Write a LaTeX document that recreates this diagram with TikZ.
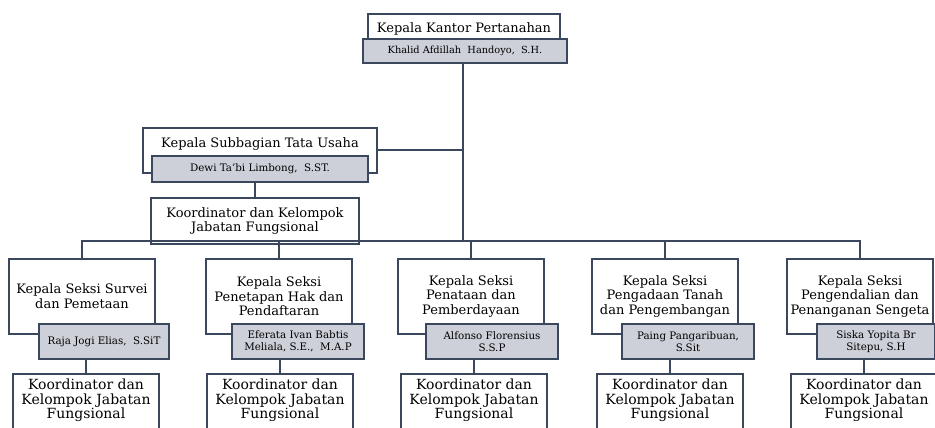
\documentclass[tikz,border=0pt]{standalone}
\usepackage{fontspec}
\setmainfont{DejaVu Serif}
\definecolor{garis}{HTML}{3A475C}
\definecolor{abu}{HTML}{CDD0D8}
\tikzset{
  jabatan/.style={draw=garis, line width=1.8pt, fill=white, align=center, inner sep=0pt, font=\fontsize{13}{14.5}\selectfont},
  pejabat/.style={draw=garis, line width=1.8pt, fill=abu, align=center, inner sep=0pt, minimum height=35pt, minimum width=132pt, font=\fontsize{10.3}{12}\selectfont},
  koordbawah/.style={jabatan, minimum width=146pt, text height=45pt, text depth=40pt, font=\fontsize{14}{14.5}\selectfont},
  hubung/.style={garis, line width=2pt},
}
\begin{document}
\begin{tikzpicture}[x=1pt, y=-1pt]
\useasboundingbox (0,0) rectangle (935,428);
\clip (0,0) rectangle (935,428);

% Kepala Kantor
\node[jabatan, anchor=north, minimum width=192pt, minimum height=30pt] (kakan) at (464,13) {Kepala Kantor Pertanahan};
\node[pejabat, anchor=north, minimum width=204pt, minimum height=24pt, font=\fontsize{9.8}{11}\selectfont] (kakanNama) at (465,38) {Khalid Afdillah\ \ Handoyo,\ \ S.H.};

% Subbagian Tata Usaha
\node[jabatan, anchor=north, minimum width=234pt, text height=20pt, text depth=25pt] (subbag) at (260,127) {Kepala Subbagian Tata Usaha};
\node[pejabat, anchor=north, minimum width=216pt, minimum height=26pt] (subbagNama) at (260,155) {Dewi Ta'bi Limbong,\ \ S.ST.};
\node[jabatan, anchor=north, minimum width=208pt, minimum height=46pt] (koord) at (255,197) {Koordinator dan Kelompok\\Jabatan Fungsional};

% Seksi
\node[jabatan, anchor=north, minimum width=146pt, minimum height=75pt] (seksi1) at (82,258) {Kepala Seksi Survei\\dan Pemetaan};
\node[jabatan, anchor=north, minimum width=146pt, minimum height=75pt] (seksi2) at (279,258) {Kepala Seksi\\Penetapan Hak dan\\Pendaftaran};
\node[jabatan, anchor=north, minimum width=146pt, minimum height=75pt] (seksi3) at (471,258) {Kepala Seksi\\Penataan dan\\Pemberdayaan};
\node[jabatan, anchor=north, minimum width=146pt, minimum height=75pt] (seksi4) at (665,258) {Kepala Seksi\\Pengadaan Tanah\\dan Pengembangan};
\node[jabatan, anchor=north, minimum width=146pt, minimum height=75pt] (seksi5) at (860,258) {Kepala Seksi\\Pengendalian dan\\Penanganan Sengeta};

% Pejabat seksi
\node[pejabat, anchor=north, minimum width=130pt] (nama1) at (104,323) {Raja Jogi Elias,\ \ S.SiT};
\node[pejabat, anchor=north] (nama2) at (298,323) {Eferata Ivan Babtis\\Meliala, S.E.,\ \ M.A.P};
\node[pejabat, anchor=north] (nama3) at (492,323) {Alfonso Florensius\\S.S.P};
\node[pejabat, anchor=north] (nama4) at (688,323) {Paing Pangaribuan,\\S.Sit};
\node[pejabat, anchor=north, minimum width=118pt] (nama5) at (876,323) {Siska Yopita Br\\Sitepu, S.H};

% Koordinator di bawah seksi
\node[koordbawah, anchor=north] (kjf1) at (86,373) {Koordinator dan\\Kelompok Jabatan\\Fungsional};
\node[koordbawah, anchor=north] (kjf2) at (280,373) {Koordinator dan\\Kelompok Jabatan\\Fungsional};
\node[koordbawah, anchor=north] (kjf3) at (474,373) {Koordinator dan\\Kelompok Jabatan\\Fungsional};
\node[koordbawah, anchor=north] (kjf4) at (670,373) {Koordinator dan\\Kelompok Jabatan\\Fungsional};
\node[koordbawah, anchor=north] (kjf5) at (864,373) {Koordinator dan\\Kelompok Jabatan\\Fungsional};

% Garis hubung
\coordinate (bus) at (463,241);
\draw[hubung, line width=2.6pt] (kakanNama.south -| bus) -- (bus);
\draw[hubung] (subbag.east) -- (subbag.east -| bus);
\draw[hubung] (koord.north |- subbagNama.south) -- (koord.north);
\draw[hubung] (seksi1.north) -- (seksi1.north |- bus) -- (seksi5.north |- bus) -- (seksi5.north);
\draw[hubung] (seksi2.north |- bus) -- (seksi2.north);
\draw[hubung] (seksi3.north |- bus) -- (seksi3.north);
\draw[hubung] (seksi4.north |- bus) -- (seksi4.north);
\draw[hubung] (kjf1.north |- nama1.south) -- (kjf1.north);
\draw[hubung] (kjf2.north |- nama2.south) -- (kjf2.north);
\draw[hubung] (kjf3.north |- nama3.south) -- (kjf3.north);
\draw[hubung] (kjf4.north |- nama4.south) -- (kjf4.north);
\draw[hubung] (kjf5.north |- nama5.south) -- (kjf5.north);
\end{tikzpicture}
\end{document}
